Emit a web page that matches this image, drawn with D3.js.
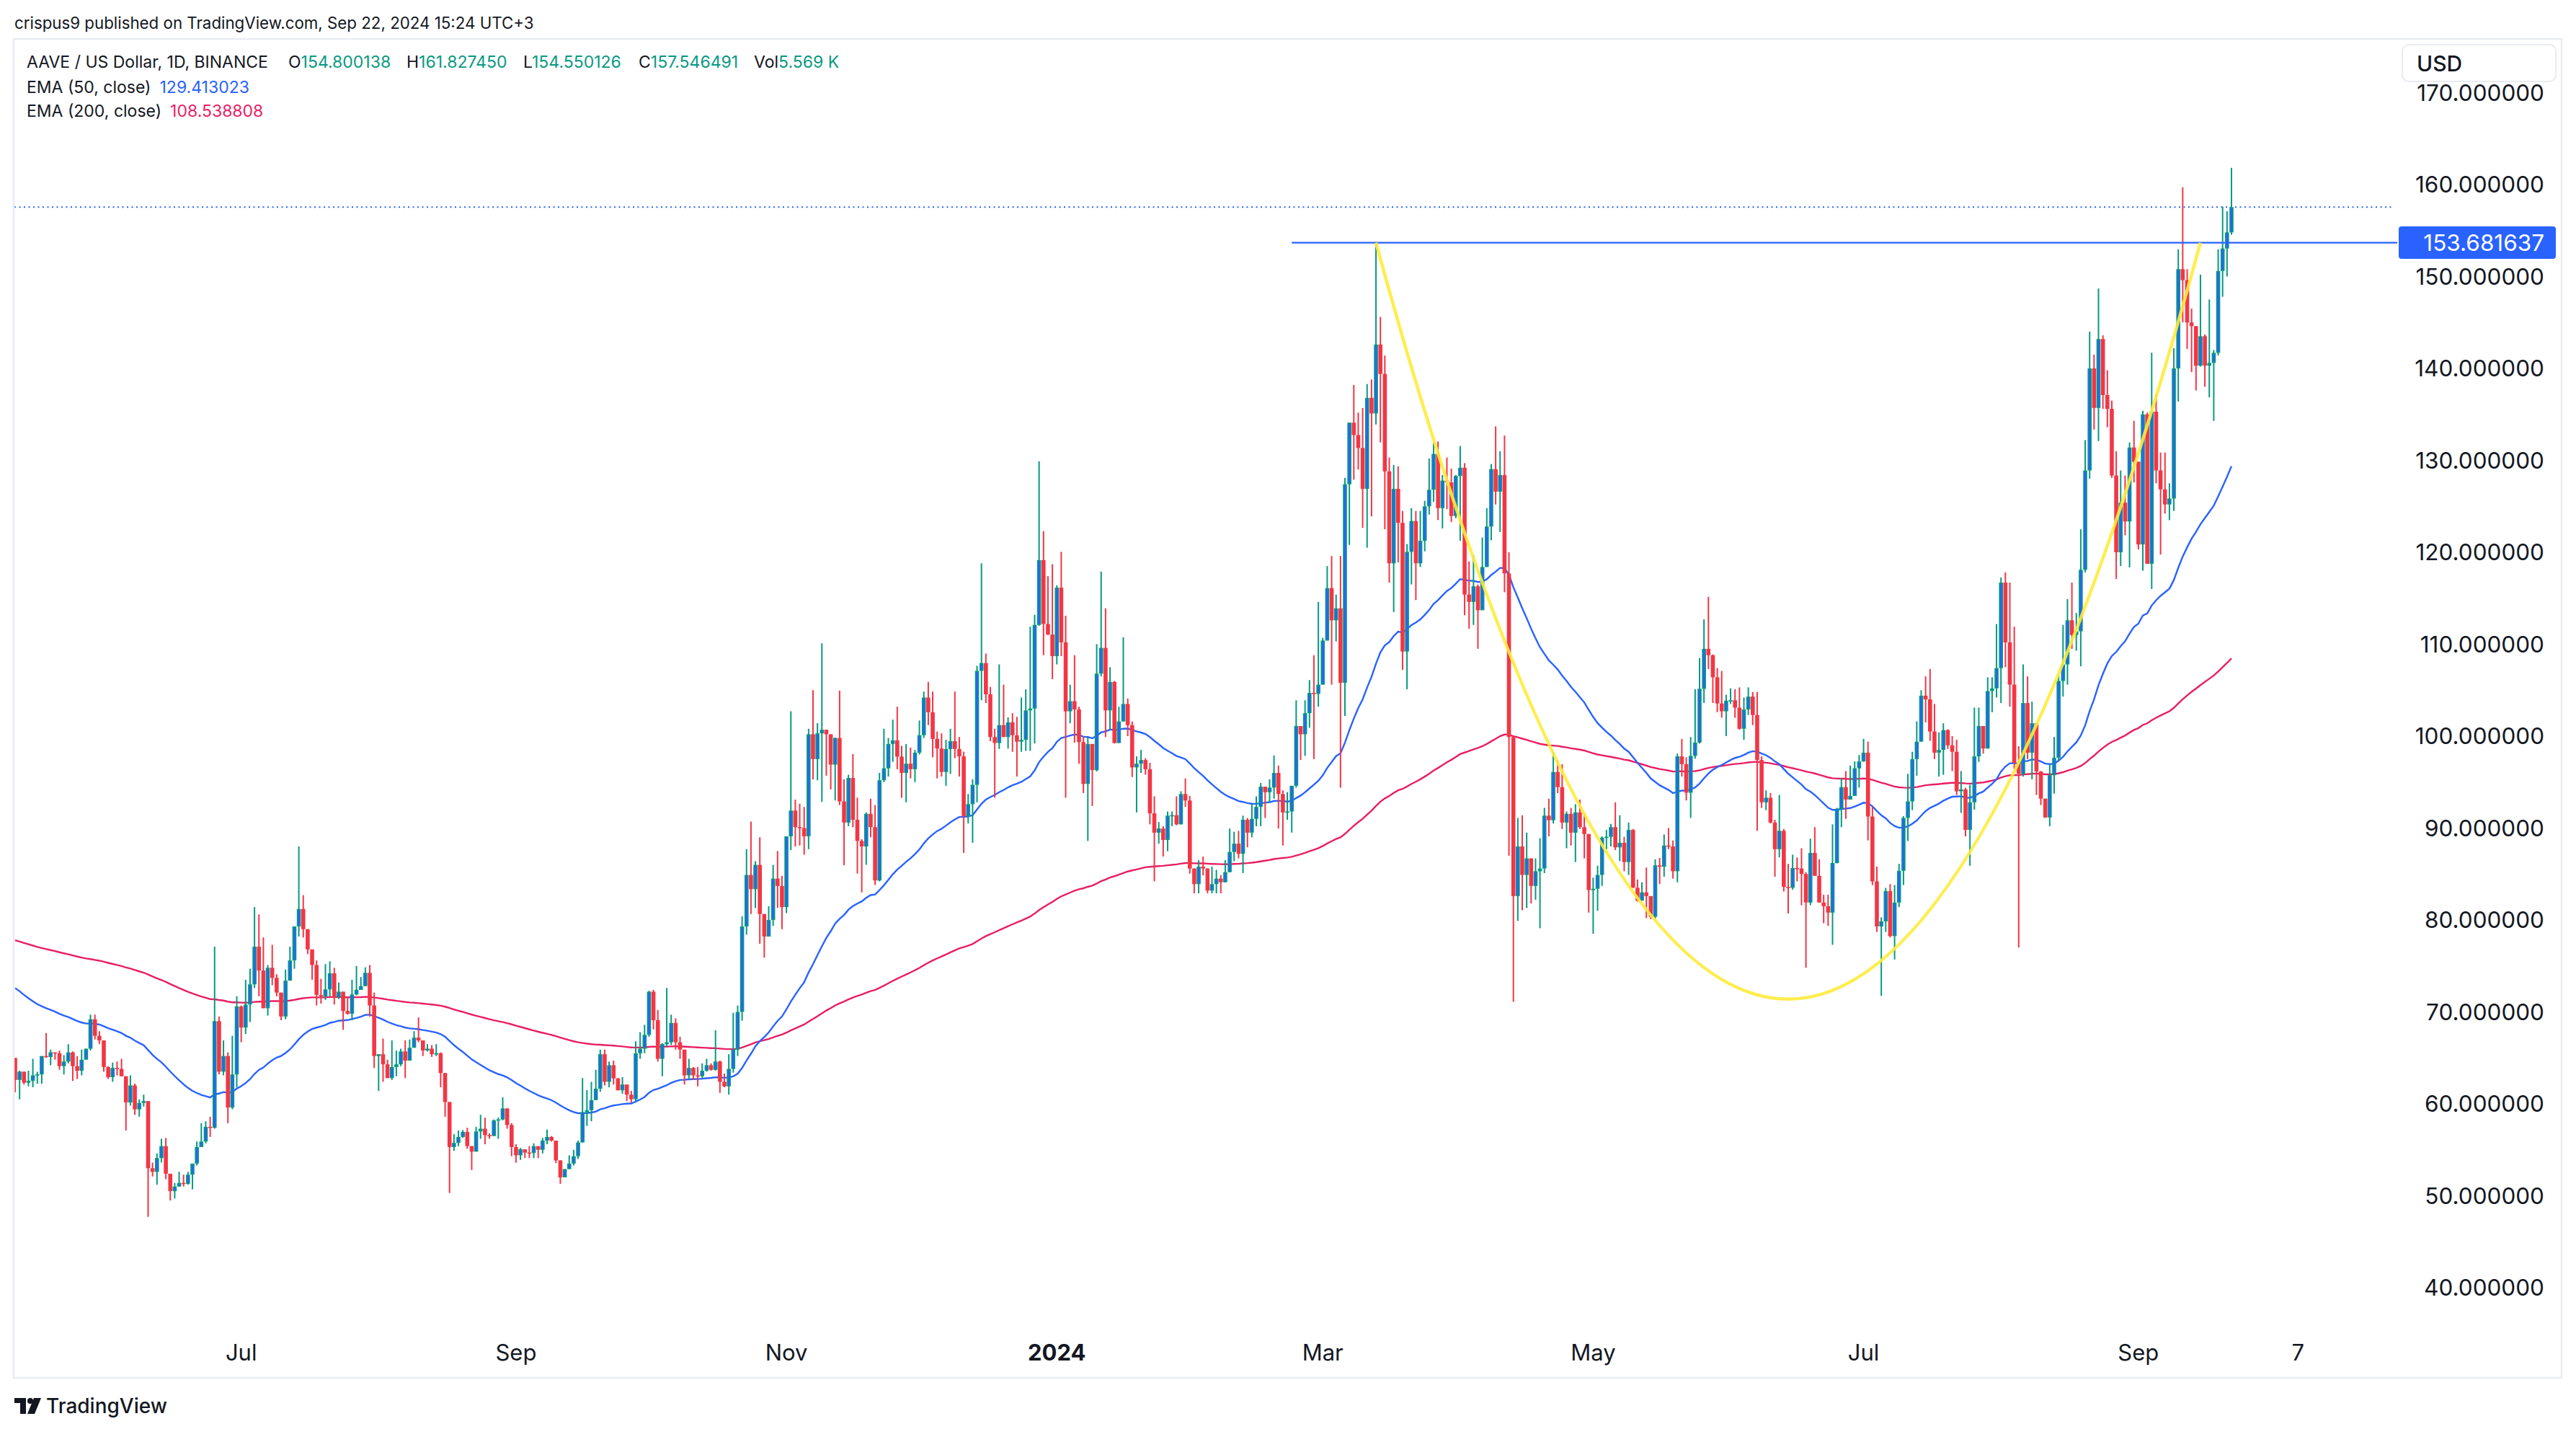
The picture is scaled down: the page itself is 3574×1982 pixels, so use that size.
<!DOCTYPE html>
<html>
<head>
<meta charset="utf-8">
<script src="https://cdn.jsdelivr.net/npm/d3@7"></script>
<style>
  body { margin: 0; background: #ffffff; }
  svg { display: block; }
  text { font-family: Inter, "Noto Sans", sans-serif; fill: #131722; }
</style>
</head>
<body>
<svg id="chart"></svg>
<script>
// ---- data (AAVE/USD daily, Binance) ----
const firstDay = "2023-05-11";
const firstOpen = 65.0;

const closes = [
  62.6, 63.5, 62.3, 62.5, 63.1, 63.2, 65.2, 65.1, 65.6, 65.5,
  64.1, 64.6, 65.6, 64.1, 63.6, 64.8, 66.0, 69.2, 67.4, 66.9,
  64.0, 62.9, 63.9, 63.8, 63.0, 60.15, 62.0, 59.4, 60.1, 60.3,
  53.0, 52.6, 54.1, 55.4, 52.4, 50.5, 51.0, 51.4, 51.3, 52.3,
  53.5, 55.3, 55.9, 57.5, 57.4, 69.0, 63.5, 65.2, 59.6, 63.2,
  70.6, 68.3, 70.8, 73.0, 77.1, 74.5, 70.4, 74.8, 73.7, 72.1,
  69.5, 73.4, 75.6, 79.3, 81.2, 79.0, 76.8, 75.1, 71.85, 71.7,
  72.45, 74.2, 71.6, 72.2, 70.1, 69.8, 71.9, 72.4, 72.8, 74.25,
  70.7, 65.2, 65.4, 64.3, 62.8, 64.0, 64.3, 65.7, 64.7, 66.1,
  67.2, 66.9, 65.8, 66.0, 65.4, 65.5, 63.35, 60.2, 55.3, 55.75,
  56.4, 56.95, 55.4, 54.8, 57.0, 57.3, 56.6, 56.5, 58.2, 58.3,
  59.5, 57.7, 55.3, 54.4, 55.05, 54.7, 54.65, 55.4, 55.0, 56.0,
  56.4, 56.0, 53.85, 52.0, 52.9, 53.5, 54.3, 55.8, 59.1, 59.3,
  60.4, 61.65, 65.4, 62.4, 64.2, 62.77, 61.47, 62.1, 61.0, 60.5,
  65.5, 66.0, 67.5, 72.2, 69.1, 64.9, 66.5, 66.7, 68.8, 66.7,
  65.9, 63.1, 63.9, 63.1, 63.0, 63.6, 64.2, 63.7, 64.6, 62.4,
  61.9, 63.8, 65.9, 70.0, 79.3, 84.9, 83.35, 86.0, 80.65, 78.2,
  80.0, 84.5, 83.7, 81.4, 89.1, 91.9, 90.1, 90.0, 89.1, 100.2,
  97.5, 100.3, 100.7, 100.2, 96.9, 99.8, 92.9, 90.6, 95.45, 90.9,
  88.6, 88.0, 91.55, 90.1, 84.3, 95.2, 96.5, 99.15, 99.54, 97.77,
  96.0, 97.0, 96.4, 98.2, 100.1, 104.2, 102.6, 99.7, 98.65, 96.1,
  98.6, 99.45, 98.6, 97.8, 91.3, 92.6, 94.7, 107.1, 107.95, 104.55,
  99.9, 99.25, 101.2, 99.9, 101.5, 100.1, 99.4, 99.6, 102.8, 103.0,
  112.1, 119.15, 112.2, 111.05, 108.7, 116.15, 110.2, 102.7, 103.8, 102.9,
  99.35, 94.8, 99.15, 96.3, 106.8, 109.6, 102.8, 105.9, 99.25, 101.6,
  103.5, 101.2, 96.6, 97.0, 97.4, 96.4, 91.6, 89.5, 89.95, 88.7,
  91.35, 91.4, 90.4, 93.7, 93.0, 85.6, 83.9, 85.8, 85.6, 83.2,
  83.9, 84.5, 84.1, 85.2, 87.4, 88.3, 87.2, 90.9, 89.5, 91.0,
  92.3, 94.5, 93.9, 94.4, 96.0, 93.7, 91.7, 91.8, 94.6, 101.1,
  100.2, 102.5, 104.7, 104.6, 105.6, 110.4, 116.1, 112.6, 113.9, 105.8,
  127.4, 134.1, 132.75, 131.35, 126.9, 136.8, 135.1, 142.6, 139.4, 128.8,
  118.8, 126.9, 123.2, 109.2, 120.05, 123.4, 118.8, 121.25, 125.0, 126.8,
  130.7, 124.8, 127.8, 127.6, 123.95, 128.3, 129.2, 115.4, 114.6, 116.3,
  113.7, 118.4, 122.8, 129.05, 126.6, 128.4, 117.7, 99.9, 82.6, 88.0,
  84.9, 86.7, 83.7, 85.3, 85.6, 91.35, 90.85, 96.1, 94.45, 90.6,
  91.55, 89.5, 91.7, 90.1, 89.35, 83.25, 83.4, 84.9, 88.95, 89.05,
  90.1, 87.9, 88.4, 86.3, 89.8, 83.5, 82.1, 83.0, 82.6, 80.35,
  85.95, 85.8, 88.1, 88.0, 85.3, 97.8, 96.95, 93.85, 97.85, 99.3,
  105.15, 109.5, 108.8, 106.4, 103.55, 102.7, 103.85, 103.9, 103.1, 100.8,
  102.9, 104.3, 102.3, 97.4, 92.8, 93.3, 90.6, 87.7, 89.7, 83.6,
  83.5, 85.65, 85.6, 85.0, 81.9, 87.3, 84.8, 81.9, 81.5, 80.8,
  86.2, 92.1, 94.45, 93.1, 93.5, 96.5, 97.25, 98.2, 91.25, 84.2,
  79.3, 79.85, 83.15, 78.25, 81.9, 85.35, 91.1, 92.9, 97.5, 99.4,
  104.4, 104.0, 100.5, 98.2, 98.5, 100.65, 99.0, 98.3, 94.0, 94.2,
  89.8, 92.8, 97.8, 101.1, 98.65, 104.9, 105.2, 107.4, 116.7, 110.2,
  105.6, 97.1, 95.9, 103.6, 98.2, 101.4, 96.15, 93.2, 91.15, 95.75,
  97.65, 106.0, 107.8, 112.6, 111.0, 111.4, 118.1, 128.9, 140.0, 135.7,
  143.2, 137.1, 135.6, 128.35, 120.0, 125.4, 123.35, 131.4, 129.85, 120.85,
  135.0, 118.75, 135.3, 128.9, 126.85, 125.2, 125.85, 140.0, 150.8, 149.6,
  145.0, 144.6, 140.3, 143.5, 140.3, 140.6, 141.7, 150.6, 153.05, 154.800138,
  157.546491
];

const highs = [
  65.0, 63.6, 63.4, 63.6, 64.9, 63.5, 65.2, 67.7, 65.9, 65.6,
  65.8, 65.3, 66.5, 65.7, 65.2, 65.9, 66.0, 69.7, 69.7, 67.9,
  66.9, 64.1, 64.5, 64.6, 64.9, 63.0, 63.1, 62.2, 60.5, 61.0,
  60.3, 53.6, 54.6, 56.2, 56.3, 52.4, 51.4, 52.6, 52.3, 52.6,
  53.5, 55.9, 57.9, 58.1, 58.6, 77.1, 69.5, 66.9, 65.6, 67.4,
  71.7, 70.7, 73.5, 74.7, 81.4, 80.6, 78.1, 75.1, 77.3, 74.1,
  71.9, 74.6, 77.1, 79.3, 88.0, 82.7, 79.0, 76.8, 75.6, 73.6,
  75.2, 75.5, 74.8, 73.2, 72.2, 71.5, 73.5, 75.0, 73.8, 74.85,
  75.1, 72.1, 65.4, 67.1, 64.8, 66.9, 65.8, 66.0, 66.9, 67.0,
  67.9, 69.4, 66.9, 66.5, 66.4, 66.5, 65.6, 63.35, 60.2, 56.7,
  57.1, 57.15, 57.4, 55.4, 57.5, 58.8, 58.5, 56.8, 58.3, 58.5,
  60.7, 59.5, 57.9, 55.6, 55.2, 55.05, 55.4, 55.7, 55.4, 56.3,
  57.2, 56.5, 56.0, 53.85, 52.9, 54.4, 55.0, 56.0, 62.8, 61.5,
  62.4, 63.7, 65.9, 65.9, 64.6, 64.7, 62.8, 62.9, 62.1, 61.4,
  66.8, 67.8, 68.6, 72.3, 72.4, 70.2, 66.6, 72.6, 69.7, 69.3,
  67.3, 65.9, 64.9, 64.0, 64.0, 64.4, 64.9, 64.4, 68.0, 64.7,
  63.3, 65.4, 69.9, 70.7, 80.4, 87.7, 90.7, 86.4, 89.0, 80.65,
  81.5, 86.0, 87.5, 84.8, 89.1, 102.7, 93.1, 92.65, 92.3, 100.8,
  105.0, 101.4, 110.1, 100.7, 100.2, 99.84, 104.95, 95.3, 95.8, 98.05,
  93.3, 88.8, 91.7, 93.2, 92.5, 96.0, 100.8, 99.8, 101.8, 103.2,
  98.95, 99.15, 98.75, 98.5, 101.7, 104.85, 105.9, 104.85, 100.5, 100.3,
  99.6, 100.8, 104.85, 99.9, 98.3, 93.7, 95.3, 107.65, 118.8, 108.98,
  105.35, 100.8, 107.8, 105.6, 102.05, 102.5, 102.1, 104.2, 105.1, 111.9,
  113.2, 129.9, 122.3, 117.4, 118.7, 116.4, 120.05, 113.1, 105.6, 108.8,
  103.2, 99.95, 99.9, 99.05, 110.0, 117.9, 113.9, 107.5, 106.0, 103.2,
  110.75, 104.1, 101.6, 97.8, 98.5, 97.6, 97.1, 93.45, 90.65, 90.2,
  91.8, 91.8, 93.45, 94.0, 95.4, 93.5, 85.6, 86.5, 86.9, 85.45,
  85.8, 85.45, 84.9, 86.5, 89.95, 89.6, 89.7, 91.35, 91.1, 92.6,
  93.45, 94.9, 94.5, 95.3, 97.9, 96.8, 94.1, 93.9, 94.6, 103.9,
  101.1, 103.9, 106.1, 108.8, 114.6, 110.7, 118.5, 119.6, 115.4, 119.6,
  128.1, 134.1, 138.2, 135.2, 135.7, 138.3, 138.8, 153.68, 145.6, 141.4,
  130.3, 129.5, 129.35, 124.5, 120.9, 124.8, 124.5, 124.5, 125.6, 130.2,
  132.0, 132.05, 128.4, 130.3, 129.1, 128.4, 131.55, 129.7, 119.0, 119.7,
  116.5, 121.6, 124.8, 129.6, 133.7, 131.0, 132.7, 120.0, 99.45, 91.1,
  91.4, 89.5, 86.7, 86.7, 88.9, 92.2, 93.2, 98.3, 97.4, 96.95,
  91.8, 92.2, 92.6, 93.1, 91.55, 89.3, 84.6, 85.9, 89.1, 89.8,
  90.45, 92.8, 91.4, 89.05, 90.6, 89.9, 84.4, 84.1, 85.7, 82.6,
  86.6, 86.75, 89.3, 90.0, 88.65, 98.1, 99.7, 97.7, 99.9, 105.1,
  108.5, 112.7, 115.15, 108.9, 107.4, 107.1, 104.5, 105.2, 105.1, 105.3,
  104.2, 105.3, 104.8, 104.8, 97.8, 94.1, 93.8, 90.9, 93.6, 89.9,
  86.1, 87.1, 86.8, 87.8, 85.2, 88.85, 90.1, 86.6, 82.75, 82.75,
  90.4, 92.2, 95.4, 96.2, 96.8, 97.25, 97.95, 99.7, 99.4, 92.3,
  85.8, 80.3, 83.5, 83.9, 83.8, 86.1, 91.3, 95.9, 98.3, 101.6,
  105.0, 106.5, 107.3, 103.5, 100.4, 101.4, 100.75, 100.0, 99.6, 96.2,
  94.4, 94.7, 103.1, 103.1, 101.0, 106.4, 106.4, 112.2, 117.25, 117.8,
  116.7, 111.9, 98.9, 107.8, 106.5, 103.75, 101.3, 96.2, 93.1, 96.97,
  99.9, 106.7, 112.1, 114.9, 116.7, 113.4, 122.5, 132.2, 144.0, 141.5,
  148.7, 143.6, 139.8, 136.5, 131.0, 128.9, 128.35, 131.95, 134.3, 129.6,
  135.4, 135.2, 141.7, 137.2, 130.85, 130.85, 127.5, 142.2, 152.95, 159.7,
  150.8, 146.5, 144.45, 150.2, 143.7, 147.5, 142.0, 152.95, 157.6, 157.1,
  161.82745
];

const lows = [
  61.25, 60.5, 62.1, 61.9, 61.8, 62.2, 62.2, 65.0, 64.2, 64.8,
  63.7, 63.2, 64.4, 62.5, 62.7, 63.1, 64.8, 65.8, 67.0, 66.5,
  63.5, 62.7, 62.4, 63.1, 63.0, 57.1, 59.8, 58.8, 58.6, 59.7,
  47.7, 52.1, 51.2, 53.6, 51.8, 49.5, 49.7, 51.0, 51.0, 51.2,
  50.7, 53.3, 55.3, 55.7, 56.4, 57.3, 63.2, 63.1, 57.9, 59.4,
  61.8, 66.7, 67.6, 68.9, 72.6, 71.7, 70.4, 69.6, 72.9, 71.7,
  69.1, 69.2, 73.4, 74.7, 78.2, 78.1, 76.3, 73.5, 70.7, 70.9,
  71.3, 71.7, 70.8, 71.4, 68.05, 69.7, 69.1, 71.8, 72.4, 72.8,
  69.5, 63.9, 61.4, 62.4, 62.8, 62.6, 63.0, 64.1, 62.8, 64.7,
  66.1, 66.7, 65.2, 65.7, 65.1, 65.2, 61.8, 58.6, 50.3, 54.9,
  55.4, 56.3, 55.1, 52.8, 54.8, 56.2, 55.6, 56.2, 56.5, 56.2,
  58.2, 57.3, 54.3, 53.6, 53.9, 54.1, 54.1, 54.1, 54.1, 54.6,
  55.6, 55.9, 53.55, 51.3, 52.0, 52.9, 53.3, 54.0, 55.8, 57.6,
  58.1, 61.6, 61.3, 62.0, 61.8, 62.1, 61.47, 61.1, 60.3, 60.1,
  60.3, 64.9, 65.5, 67.3, 68.1, 64.6, 63.0, 66.2, 66.4, 65.9,
  64.9, 62.1, 62.6, 62.6, 61.9, 62.8, 63.5, 63.6, 63.6, 61.2,
  61.8, 61.0, 63.4, 65.2, 69.05, 78.4, 80.65, 81.3, 77.4, 75.9,
  78.2, 79.35, 81.3, 79.0, 80.75, 87.6, 88.0, 88.1, 87.1, 87.7,
  95.3, 95.2, 92.85, 95.7, 94.2, 93.0, 92.5, 85.95, 90.2, 90.1,
  85.05, 83.0, 86.0, 89.0, 83.8, 84.2, 95.0, 95.6, 97.2, 96.4,
  93.3, 92.8, 95.4, 95.0, 98.0, 99.8, 101.2, 97.7, 95.4, 95.6,
  94.6, 95.9, 97.6, 95.6, 87.3, 90.5, 88.4, 92.8, 103.9, 103.6,
  99.45, 93.3, 98.6, 99.9, 98.65, 98.3, 95.6, 98.3, 98.4, 98.4,
  99.2, 112.0, 108.8, 111.0, 106.2, 107.8, 108.7, 93.3, 101.4, 99.3,
  97.0, 93.8, 88.6, 92.4, 96.15, 106.5, 99.9, 100.7, 99.2, 99.3,
  101.6, 100.0, 95.55, 91.7, 96.0, 95.8, 90.4, 84.2, 88.3, 86.9,
  87.5, 90.2, 90.3, 90.4, 92.3, 85.05, 82.9, 82.9, 84.85, 82.9,
  82.9, 82.9, 82.9, 84.1, 85.5, 86.4, 86.7, 85.1, 87.9, 89.0,
  90.2, 90.2, 91.1, 92.7, 93.2, 89.95, 88.1, 90.9, 89.5, 94.4,
  97.4, 97.85, 100.9, 97.5, 103.2, 105.8, 110.4, 105.6, 110.3, 94.4,
  102.2, 120.8, 127.9, 129.0, 122.65, 120.5, 123.9, 133.9, 131.95, 122.5,
  116.7, 113.5, 118.9, 107.2, 105.1, 116.5, 114.8, 118.4, 120.1, 124.1,
  125.5, 123.5, 122.6, 124.7, 123.3, 123.7, 121.25, 113.15, 111.7, 112.1,
  109.5, 113.7, 118.4, 121.3, 125.2, 122.2, 115.65, 87.0, 71.1, 79.9,
  81.05, 81.3, 81.8, 82.2, 79.1, 85.1, 89.1, 90.5, 93.8, 89.9,
  87.8, 88.1, 86.3, 89.9, 86.7, 80.8, 78.5, 81.0, 83.7, 87.7,
  88.0, 87.6, 86.4, 85.3, 84.9, 83.5, 82.0, 82.1, 80.2, 80.1,
  80.1, 83.9, 84.7, 87.7, 84.5, 84.1, 95.6, 93.0, 91.1, 97.55,
  99.2, 103.6, 107.3, 103.6, 102.6, 102.0, 100.0, 103.5, 102.0, 100.7,
  99.6, 102.3, 101.2, 89.7, 92.2, 91.95, 90.5, 84.7, 86.8, 83.1,
  80.7, 83.3, 84.2, 81.6, 74.8, 81.6, 84.8, 81.9, 79.65, 79.35,
  77.3, 86.15, 90.1, 91.0, 93.4, 93.5, 94.4, 97.2, 88.65, 83.8,
  78.7, 71.75, 78.7, 78.1, 75.7, 81.4, 83.8, 88.6, 91.95, 95.7,
  99.4, 101.5, 99.5, 97.5, 95.6, 95.8, 98.6, 96.2, 93.6, 91.65,
  89.1, 85.9, 92.0, 97.2, 98.1, 98.7, 102.6, 104.2, 103.6, 107.5,
  103.2, 96.4, 77.0, 95.6, 97.5, 95.3, 93.6, 92.5, 91.1, 90.2,
  93.75, 97.3, 104.3, 105.6, 109.5, 109.3, 107.6, 117.8, 128.0, 133.35,
  132.1, 135.6, 133.6, 128.1, 117.1, 118.5, 121.85, 118.35, 127.6, 120.3,
  118.0, 118.75, 116.0, 127.5, 119.75, 124.2, 123.5, 124.5, 136.4, 145.0,
  142.1, 139.6, 137.6, 140.2, 138.0, 136.85, 134.3, 141.4, 147.8, 150.0,
  154.550126
];

// EMA values where the lines enter the left edge of the picture
const ema50Start = 72.6;
const ema200Start = 77.8;

const resistance = 153.681637;
const resistanceFrom = "2024-02-23";
// cup curve drawn by the author: start, control, end (date, price)
const cupDates = ["2024-03-13", "2024-06-14", "2024-09-15"];
const cupPrices = [153.68, -10.9, 153.68];

const priceTicks = [170, 160, 150, 140, 130, 120, 110, 100, 90, 80, 70, 60, 50, 40];
const timeTickDates = ["2023-07-01", "2023-09-01", "2023-11-01", "2024-01-01", "2024-03-01", "2024-05-01", "2024-07-01", "2024-09-01", "2024-10-07"];
const timeTickLabels = ["Jul", "Sep", "Nov", "2024", "Mar", "May", "Jul", "Sep", "7"];

// ---- drawing ----
const W = 3574, H = 1982;
const UP = "#089981", DOWN = "#F23645", BLUE = "#2962FF", PINK = "#E91E63";
const svg = d3.select("#chart").attr("width", W).attr("height", H);
const parse = d3.utcParse("%Y-%m-%d");
const start = parse(firstDay);
const dayAt = i => d3.utcDay.offset(start, i);
const n = Math.min(closes.length, highs.length, lows.length);

const x = d3.scaleUtc().domain([start, dayAt(n - 1)]).range([21, 3096]);
const y = d3.scaleLinear().domain([40, 160]).range([1786, 256]);

const candles = [];
for (var i = 0; i < n; i++) {
  var o = i === 0 ? firstOpen : closes[i - 1];
  var c = closes[i];
  candles.push({ t: dayAt(i), o: o, c: c, h: Math.max(highs[i], o, c), l: Math.min(lows[i], o, c) });
}

function ema(values, period, seed) {
  var k = 2 / (period + 1), out = [seed];
  for (var i = 1; i < values.length; i++) out.push(values[i] * k + out[i - 1] * (1 - k));
  return out;
}
const ema50 = ema(closes.slice(0, n), 50, ema50Start);
const ema200 = ema(closes.slice(0, n), 200, ema200Start);

// frame
svg.append("rect").attr("x", 19).attr("y", 54).attr("width", 3535).attr("height", 1857)
  .attr("fill", "none").attr("stroke", "#e9ecf2").attr("stroke-width", 2.5);

svg.append("defs").append("clipPath").attr("id", "plot")
  .append("rect").attr("x", 20.5).attr("y", 56).attr("width", 3308).attr("height", 1800);

const plot = svg.append("g").attr("clip-path", "url(#plot)");

// last price dotted line
plot.append("line").attr("x1", 20).attr("x2", 3322)
  .attr("y1", y(closes[n - 1])).attr("y2", y(closes[n - 1]))
  .attr("stroke", BLUE).attr("stroke-width", 2).attr("stroke-dasharray", "2,4.5");

// EMA lines
const line = d3.line().x((d, i) => x(dayAt(i))).y(d => y(d));
plot.append("path").datum(ema200).attr("d", line).attr("fill", "none")
  .attr("stroke", PINK).attr("stroke-width", 2.4);
plot.append("path").datum(ema50).attr("d", line).attr("fill", "none")
  .attr("stroke", BLUE).attr("stroke-width", 2.4);

// wicks
plot.selectAll("line.wick").data(candles).join("line").attr("class", "wick")
  .attr("x1", d => x(d.t)).attr("x2", d => x(d.t))
  .attr("y1", d => y(d.h)).attr("y2", d => y(d.l))
  .attr("stroke", d => d.c >= d.o ? UP : DOWN).attr("stroke-width", 2);

// bodies
const bw = 5.6;
plot.selectAll("rect.body").data(candles).join("rect").attr("class", "body")
  .attr("x", d => x(d.t) - bw / 2).attr("width", bw)
  .attr("y", d => y(Math.max(d.o, d.c)))
  .attr("height", d => Math.max(1.6, Math.abs(y(d.o) - y(d.c))))
  .attr("fill", d => d.c >= d.o ? UP : DOWN);
plot.selectAll("rect.inner").data(candles.filter(d => d.c >= d.o && Math.abs(y(d.o) - y(d.c)) > 4))
  .join("rect").attr("class", "inner")
  .attr("x", d => x(d.t) - 1.2).attr("width", 2.4)
  .attr("y", d => y(d.c) + 1.5)
  .attr("height", d => Math.abs(y(d.o) - y(d.c)) - 3)
  .attr("fill", BLUE);

// resistance line
plot.append("line").attr("x1", x(parse(resistanceFrom))).attr("x2", 3326)
  .attr("y1", y(resistance)).attr("y2", y(resistance))
  .attr("stroke", BLUE).attr("stroke-width", 2.2);

// cup curve
const cp = cupDates.map((d, i) => [x(parse(d)), y(cupPrices[i])]);
plot.append("path")
  .attr("d", "M" + cp[0][0] + "," + cp[0][1] + " Q" + cp[1][0] + "," + cp[1][1] + " " + cp[2][0] + "," + cp[2][1])
  .attr("fill", "none").attr("stroke", "#FFEB3B").attr("stroke-opacity", 0.9).attr("stroke-width", 4.5);

// price axis
svg.selectAll("text.ptick").data(priceTicks).join("text").attr("class", "ptick")
  .attr("x", 3530).attr("y", d => y(d)).attr("dy", "0.36em")
  .attr("text-anchor", "end").attr("font-size", 31.5).text(d => d.toFixed(6));

svg.append("rect").attr("x", 3333).attr("y", 62).attr("width", 213).attr("height", 51)
  .attr("rx", 9).attr("fill", "#fff").attr("stroke", "#e9ecf2").attr("stroke-width", 2);
svg.append("text").attr("x", 3353).attr("y", 88).attr("dy", "0.36em")
  .attr("font-size", 30).attr("font-weight", 500).text("USD");

svg.append("rect").attr("x", 3328).attr("y", y(resistance) - 22.5).attr("width", 218).attr("height", 45)
  .attr("rx", 4).attr("fill", BLUE);
svg.append("text").attr("x", 3530).attr("y", y(resistance)).attr("dy", "0.36em")
  .attr("text-anchor", "end").attr("font-size", 31.5).style("fill", "#fff").text(resistance.toFixed(6));

// time axis
svg.selectAll("text.ttick").data(timeTickDates).join("text").attr("class", "ttick")
  .attr("x", d => x(parse(d))).attr("y", 1876).attr("dy", "0.36em")
  .attr("text-anchor", "middle").attr("font-size", 31)
  .attr("font-weight", (d, i) => timeTickLabels[i] === "2024" ? 700 : 400)
  .text((d, i) => timeTickLabels[i]);

// header and legend
svg.append("text").attr("x", 20).attr("y", 32).attr("dy", "0.36em").attr("font-size", 22.3)
  .text("crispus9 published on TradingView.com, Sep 22, 2024 15:24 UTC+3");

const legendY = [86, 121, 154];
const l1 = svg.append("text").attr("x", 37).attr("y", legendY[0]).attr("dy", "0.36em").attr("font-size", 23);
l1.append("tspan").text("AAVE / US Dollar, 1D, BINANCE");
const ohlc = [["O", "154.800138"], ["H", "161.827450"], ["L", "154.550126"], ["C", "157.546491"], ["Vol", "5.569 K"]];
const ohlcX = [400, 564, 726, 886, 1046];
ohlc.forEach(function (p, i) {
  var t = svg.append("text").attr("x", ohlcX[i]).attr("y", legendY[0]).attr("dy", "0.36em").attr("font-size", 23);
  t.append("tspan").text(p[0]);
  t.append("tspan").style("fill", UP).text(p[1]);
});
const l2 = svg.append("text").attr("x", 37).attr("y", legendY[1]).attr("dy", "0.36em").attr("font-size", 23);
l2.append("tspan").text("EMA (50, close)");
l2.append("tspan").attr("dx", 12).style("fill", BLUE).text("129.413023");
const l3 = svg.append("text").attr("x", 37).attr("y", legendY[2]).attr("dy", "0.36em").attr("font-size", 23);
l3.append("tspan").text("EMA (200, close)");
l3.append("tspan").attr("dx", 12).style("fill", PINK).text("108.538808");

// TradingView mark
const logo = svg.append("g").attr("fill", "#131722");
logo.append("rect").attr("x", 20).attr("y", 1939).attr("width", 16).attr("height", 7);
logo.append("rect").attr("x", 28).attr("y", 1939).attr("width", 8).attr("height", 22);
logo.append("circle").attr("cx", 42).attr("cy", 1943).attr("r", 4);
logo.append("path").attr("d", "M47,1939 L57,1939 L48,1961 L38,1961 Z");
svg.append("text").attr("x", 64).attr("y", 1950).attr("dy", "0.36em").attr("font-size", 28)
  .attr("font-weight", 500).text("TradingView");
</script>
</body>
</html>
